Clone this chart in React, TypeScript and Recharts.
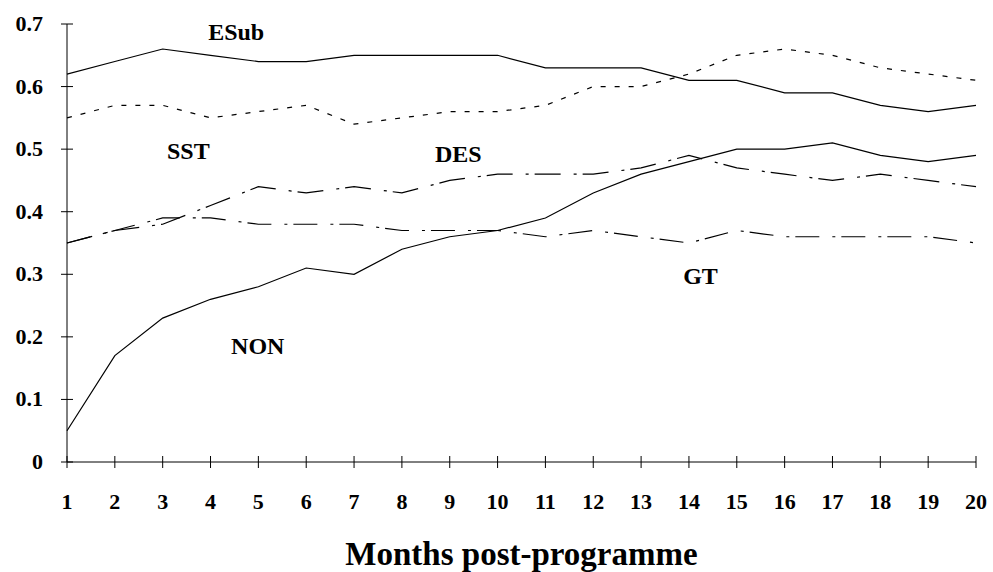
import { LineChart, Line, XAxis, YAxis, ReferenceDot } from "recharts";

const months = [1, 2, 3, 4, 5, 6, 7, 8, 9, 10, 11, 12, 13, 14, 15, 16, 17, 18, 19, 20];
const esub = [0.62, 0.64, 0.66, 0.65, 0.64, 0.64, 0.65, 0.65, 0.65, 0.65, 0.63, 0.63, 0.63, 0.61, 0.61, 0.59, 0.59, 0.57, 0.56, 0.57];
const sst = [0.55, 0.57, 0.57, 0.55, 0.56, 0.57, 0.54, 0.55, 0.56, 0.56, 0.57, 0.6, 0.6, 0.62, 0.65, 0.66, 0.65, 0.63, 0.62, 0.61];
const des = [0.35, 0.37, 0.38, 0.41, 0.44, 0.43, 0.44, 0.43, 0.45, 0.46, 0.46, 0.46, 0.47, 0.49, 0.47, 0.46, 0.45, 0.46, 0.45, 0.44];
const gt = [0.35, 0.37, 0.39, 0.39, 0.38, 0.38, 0.38, 0.37, 0.37, 0.37, 0.36, 0.37, 0.36, 0.35, 0.37, 0.36, 0.36, 0.36, 0.36, 0.35];
const non = [0.05, 0.17, 0.23, 0.26, 0.28, 0.31, 0.3, 0.34, 0.36, 0.37, 0.39, 0.43, 0.46, 0.48, 0.5, 0.5, 0.51, 0.49, 0.48, 0.49];
const yTicks = [0, 0.1, 0.2, 0.3, 0.4, 0.5, 0.6, 0.7];

// series name labels, anchored in data space (month, value)
const seriesLabels = [
  { text: "ESub", month: 3.95, value: 0.675 },
  { text: "SST", month: 3.09, value: 0.484 },
  { text: "DES", month: 8.69, value: 0.479 },
  { text: "NON", month: 4.43, value: 0.173 },
  { text: "GT", month: 13.88, value: 0.284 },
];

const data = months.map((m, i) => ({
  month: m,
  esub: esub[i],
  sst: sst[i],
  des: des[i],
  gt: gt[i],
  non: non[i],
}));

const FONT = '"Liberation Serif", "Times New Roman", serif';
const INK = "#000";

function XTick({ x, y, payload }: any) {
  return (
    <g>
      <line x1={x} x2={x} y1={y - 6} y2={y + 6} stroke={INK} strokeWidth={1} />
      <text
        x={x}
        y={y + 47}
        textAnchor="middle"
        fontFamily={FONT}
        fontWeight="bold"
        fontSize={22}
        fill={INK}
      >
        {payload.value}
      </text>
    </g>
  );
}

function YTick({ x, y, payload }: any) {
  const v = payload.value as number;
  return (
    <g>
      <line x1={x - 6} x2={x + 6} y1={y} y2={y} stroke={INK} strokeWidth={1} />
      <text
        x={x - 24}
        y={y + 7}
        textAnchor="end"
        fontFamily={FONT}
        fontWeight="bold"
        fontSize={22}
        fill={INK}
      >
        {v === 0 ? "0" : v.toFixed(1)}
      </text>
    </g>
  );
}

export default function App() {
  return (
    <div style={{ position: "absolute", left: 0, top: 0, background: "#fff" }}>
      <LineChart
        width={993}
        height={572}
        data={data}
        margin={{ top: 24, right: 17, bottom: 0, left: 0 }}
      >
        <XAxis
          dataKey="month"
          type="number"
          domain={[1, 20]}
          ticks={months}
          interval={0}
          height={110}
          tickSize={0}
          tickMargin={0}
          tickLine={false}
          axisLine={{ stroke: INK }}
          tick={<XTick />}
          label={{
            value: "Months post-programme",
            position: "insideBottom",
            offset: 7,
            style: {
              fontFamily: FONT,
              fontWeight: "bold",
              fontSize: 33,
              fill: INK,
            },
          }}
        />
        <YAxis
          type="number"
          domain={[0, 0.7]}
          ticks={yTicks}
          interval={0}
          width={67}
          tickSize={0}
          tickMargin={0}
          tickLine={false}
          axisLine={{ stroke: INK }}
          tick={<YTick />}
        />
        <Line dataKey="esub" type="linear" stroke={INK} strokeWidth={1.2} dot={false} isAnimationActive={false} />
        <Line dataKey="sst" type="linear" stroke={INK} strokeWidth={1.2} strokeDasharray="5 9" dot={false} isAnimationActive={false} />
        <Line dataKey="des" type="linear" stroke={INK} strokeWidth={1.2} strokeDasharray="26 13 3 6" dot={false} isAnimationActive={false} />
        <Line dataKey="gt" type="linear" stroke={INK} strokeWidth={1.2} strokeDasharray="24 13 3 6" dot={false} isAnimationActive={false} />
        <Line dataKey="non" type="linear" stroke={INK} strokeWidth={1.2} dot={false} isAnimationActive={false} />
        {seriesLabels.map((l) => (
          <ReferenceDot
            key={l.text}
            x={l.month}
            y={l.value}
            r={0}
            shape={(p: any) => (
              <text
                x={p.cx}
                y={p.cy}
                fontFamily={FONT}
                fontWeight="bold"
                fontSize={24}
                fill={INK}
              >
                {l.text}
              </text>
            )}
          />
        ))}
      </LineChart>
    </div>
  );
}
